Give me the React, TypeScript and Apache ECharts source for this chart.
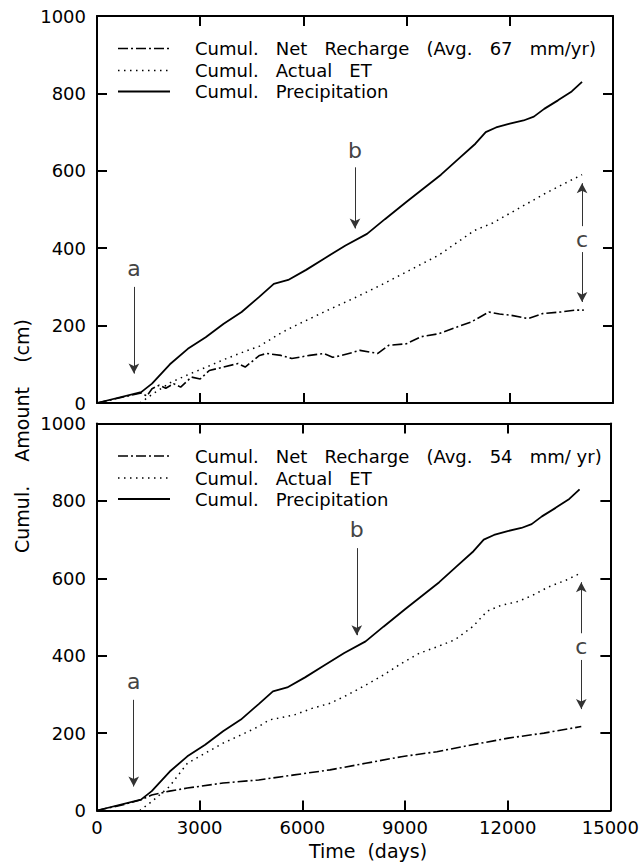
import React, { useEffect, useRef } from "react";
import * as echarts from "echarts";

// ---------- data ----------
const precipDays = [0, 1285, 1599, 2119, 2640, 3160, 3683, 4204, 4724, 5140, 5558, 6079, 6599, 7224, 7849, 8370, 9000, 9500, 10000, 10500, 11000, 11300, 11600, 12000, 12400, 12700, 13000, 13400, 13800, 14100];
const precipCm = [0, 28, 50, 100, 140, 170, 205, 235, 275, 308, 318, 344, 373, 407, 437, 475, 520, 555, 590, 630, 670, 700, 712, 722, 730, 740, 760, 782, 805, 830];

const etDaysA = [1250, 1599, 2119, 2640, 3160, 3683, 4204, 4724, 5349, 5766, 6287, 6808, 7329, 7849, 8370, 8893, 9410, 9934, 10454, 10977, 11500, 12000, 12500, 13000, 13500, 14100];
const etCmA = [0, 22, 52, 73, 92, 112, 130, 147, 181, 200, 222, 244, 265, 287, 310, 334, 358, 382, 414, 446, 465, 490, 515, 540, 563, 590];

const netDaysA = [0, 1285, 1450, 1599, 1807, 2000, 2224, 2432, 2744, 3000, 3264, 3683, 4099, 4308, 4724, 4933, 5349, 5663, 6183, 6599, 6850, 7120, 7643, 8164, 8475, 8995, 9410, 9934, 10454, 10870, 11390, 11700, 12015, 12535, 12953, 13476, 13892, 14150];
const netCmA = [0, 26, 18, 37, 46, 38, 50, 41, 67, 62, 84, 93, 102, 93, 123, 128, 123, 115, 123, 128, 118, 123, 136, 128, 149, 153, 171, 179, 196, 209, 235, 230, 227, 218, 231, 235, 240, 240];

const etDaysB = [1250, 1599, 2119, 2640, 3160, 3683, 4204, 4724, 5036, 5766, 6287, 6808, 7329, 7849, 8370, 8893, 9410, 9934, 10454, 10977, 11400, 11800, 12300, 12700, 13200, 13700, 14100];
const etCmB = [0, 23, 62, 122, 148, 174, 195, 217, 234, 247, 264, 277, 299, 324, 350, 380, 406, 423, 441, 475, 515, 530, 540, 555, 578, 595, 612];

const netDaysB = [0, 766, 1285, 1599, 2119, 2640, 3683, 4724, 5766, 6808, 7849, 8893, 9934, 10977, 12015, 13058, 14150];
const netCmB = [0, 15, 28, 40, 50, 58, 71, 79, 92, 105, 122, 139, 152, 170, 187, 200, 217];

const legendNetA = "Cumul.   Net   Recharge   (Avg.   67   mm/yr)";
const legendNetB = "Cumul.   Net   Recharge   (Avg.   54   mm/ yr)";
const legendET = "Cumul.   Actual   ET";
const legendP = "Cumul.   Precipitation";
const xTitle = "Time  (days)";
const yTitle = "Cumul.    Amount    (cm)";

// annotation positions in data units [day, cm]
const arrowsA = [
  [[1073, 300], [1073, 76]],
  [[7500, 609], [7500, 451]],
  [[14100, 457], [14100, 568]],
  [[14100, 390], [14100, 261]],
];
const lettersA = [["a", 1073, 347], ["b", 7500, 652], ["c", 14100, 422]];
const arrowsB = [
  [[1073, 286], [1073, 62]],
  [[7590, 678], [7590, 453]],
  [[14150, 458], [14150, 590]],
  [[14150, 389], [14150, 262]],
];
const lettersB = [["a", 1073, 333], ["b", 7590, 725], ["c", 14150, 423]];

const FONT = "DejaVu Sans";
const zip = (a: number[], b: number[]) => a.map((v, i) => [v, b[i]]);

export default function App() {
  const ref = useRef<HTMLDivElement>(null);
  useEffect(() => {
    if (!ref.current) return;
    const chart = echarts.init(ref.current, null, { renderer: "svg" });

    const grids = [
      { left: 97, top: 16, width: 516, height: 387 },
      { left: 97, top: 423.5, width: 516, height: 387 },
    ];

    const axisCommon = {
      axisLine: { show: true, onZero: false, lineStyle: { color: "#000", width: 2 } },
      axisTick: { show: true, inside: true, length: 10, lineStyle: { color: "#000", width: 2 } },
      splitLine: { show: false },
    };
    const fmt = (v: number) => String(v);
    const xAx = (gi: number, pos: string, showLabel: boolean) => ({
      type: "value", gridIndex: gi, position: pos, min: 0, max: 15000, interval: 3000,
      ...axisCommon,
      axisLabel: { show: showLabel, color: "#000", fontSize: 18, fontFamily: FONT, margin: 8, formatter: fmt },
    });
    const yAx = (gi: number, pos: string, showLabel: boolean) => ({
      type: "value", gridIndex: gi, position: pos, min: 0, max: 1000, interval: 200,
      ...axisCommon,
      axisLabel: { show: showLabel, color: "#000", fontSize: 18, fontFamily: FONT, margin: 11, formatter: fmt },
    });

    const markLine = (arrows: number[][][]) => ({
      silent: true,
      symbol: ["none", "arrow"],
      symbolSize: [8, 10],
      lineStyle: { color: "#333", width: 1, type: "solid" },
      itemStyle: { color: "#000" },
      label: { show: false },
      data: arrows.map((a) => [{ coord: a[0] }, { coord: a[1] }]),
    });
    const markPoint = (letters: any[]) => ({
      silent: true,
      symbol: "circle",
      symbolSize: 0,
      label: { show: true, position: "inside", formatter: "{b}", fontSize: 22, color: "#444", fontFamily: FONT },
      data: letters.map((l) => ({ name: l[0], coord: [l[1], l[2]] })),
    });

    const line = (xi: number, yi: number, data: number[][], style: any, extra: any = {}) => ({
      type: "line", xAxisIndex: xi, yAxisIndex: yi, data, symbol: "none", showSymbol: false,
      silent: true, lineStyle: { color: "#000", ...style }, ...extra,
    });

    const solid = { width: 1.8, type: "solid" };
    const dotted = { width: 1.5, type: [1.5, 4.5] };
    const dashDot = { width: 1.6, type: [10, 3, 2, 3] };

    const legend = (top: number, netText: string) => {
      const rows = [top + 32.5, top + 54.5, top + 75.5];
      const styles = [dashDot, dotted, solid];
      const texts = [netText, legendET, legendP];
      const els: any[] = [];
      rows.forEach((y, i) => {
        els.push({
          type: "line", shape: { x1: 118, y1: y, x2: 170, y2: y },
          style: { stroke: "#000", lineWidth: styles[i].width, lineDash: styles[i].type === "solid" ? null : styles[i].type },
        });
        els.push({
          type: "text", x: 195, y,
          style: { text: texts[i], fontSize: 18, fontFamily: FONT, fill: "#000", align: "left", verticalAlign: "middle", textAlign: "left", textVerticalAlign: "middle" },
        });
      });
      return els;
    };

    chart.setOption({
      animation: false,
      backgroundColor: "#fff",
      grid: grids,
      xAxis: [xAx(0, "bottom", false), xAx(0, "top", false), xAx(1, "bottom", true), xAx(1, "top", false)],
      yAxis: [yAx(0, "left", true), yAx(0, "right", false), yAx(1, "left", true), yAx(1, "right", false)],
      series: [
        line(0, 0, zip(precipDays, precipCm), solid, { markLine: markLine(arrowsA), markPoint: markPoint(lettersA) }),
        line(0, 0, zip(etDaysA, etCmA), dotted),
        line(0, 0, zip(netDaysA, netCmA), dashDot),
        line(2, 2, zip(precipDays, precipCm), solid, { markLine: markLine(arrowsB), markPoint: markPoint(lettersB) }),
        line(2, 2, zip(etDaysB, etCmB), dotted),
        line(2, 2, zip(netDaysB, netCmB), dashDot),
      ],
      graphic: [
        ...legend(16, legendNetA),
        ...legend(423.5, legendNetB),
        {
          type: "text", x: 368, y: 851,
          style: { text: xTitle, fontSize: 19, fontFamily: FONT, fill: "#000", align: "center", verticalAlign: "middle", textAlign: "center", textVerticalAlign: "middle" },
        },
        {
          type: "text", x: 22, y: 436, rotation: Math.PI / 2,
          style: { text: yTitle, fontSize: 19, fontFamily: FONT, fill: "#000", align: "center", verticalAlign: "middle", textAlign: "center", textVerticalAlign: "middle" },
        },
      ],
    });
    return () => chart.dispose();
  }, []);
  return <div ref={ref} style={{ position: "fixed", left: 0, top: 0, width: 642, height: 865, background: "#fff" }} />;
}
